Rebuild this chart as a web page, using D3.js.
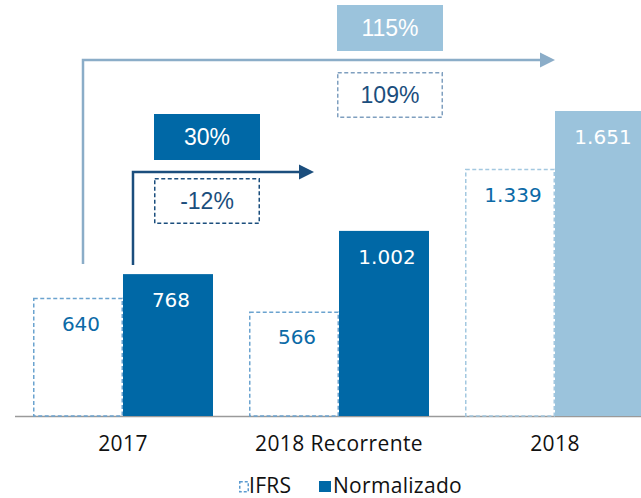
<!DOCTYPE html>
<html>
<head>
<meta charset="utf-8">
<script src="https://cdn.jsdelivr.net/npm/d3@7"></script>
<style>
  html, body { margin: 0; padding: 0; background: #fff; }
  svg { display: block; }
  .cat { font-family: "Open Sans", sans-serif; font-size: 21px; fill: #111; letter-spacing: 0.4px; }
  .val { font-family: "DejaVu Sans", sans-serif; font-size: 20px; }
  .pct { font-family: "Liberation Sans", Arial, sans-serif; font-size: 23px; }
  .leg { font-family: "Open Sans", sans-serif; font-size: 21px; fill: #111; letter-spacing: 0.3px; }
</style>
</head>
<body>
<div id="chart"></div>
<script>
const categories = ["2017", "2018 Recorrente", "2018"]
const series = ["IFRS", "Normalizado"]
const ifrs = [640, 566, 1339]
const normalizado = [768, 1002, 1651]
const valueLabels = [["640", "566", "1.339"], ["768", "1.002", "1.651"]]
// growth annotations: [filled (Normalizado), dashed (IFRS)]
const growthShort = ["30%", "-12%"]
const growthLong = ["115%", "109%"]

const w = 641, h = 498,
    margin = {left: 33, bottom: 82, top: 111}

const darkBlue = "#0068a6",
      lightBlue = "#9bc3dc",
      navy = "#1b4e7d",
      steel = "#8badc8"

const svg = d3.select("#chart").append("svg")
    .attr("width", w)
    .attr("height", h)

const x0 = d3.scaleBand()
    .domain(categories)
    .range([margin.left, margin.left + 612])
    .paddingInner(0.1667)
    .paddingOuter(0)

const x1 = d3.scaleBand()
    .domain(series)
    .range([0, x0.bandwidth()])

const y = d3.scaleLinear()
    .domain([0, 1651])
    .range([h - margin.bottom, margin.top])

const base = y(0)

// axis line
svg.append("line")
  .attr("x1", 15).attr("x2", w)
  .attr("y1", base + 0.5).attr("y2", base + 0.5)
  .attr("stroke", "#9a9a9a")
  .attr("stroke-width", 1.5)

// bars + labels
const bw = x1.bandwidth()
categories.forEach((c, i) => {
  const last = i === categories.length - 1
  svg.append("rect")
    .attr("x", x0(c) + x1("IFRS") + 0.75)
    .attr("y", y(ifrs[i]) + 0.75)
    .attr("width", bw - 1.5)
    .attr("height", base - y(ifrs[i]) - 0.75)
    .attr("fill", "none")
    .attr("stroke", last ? "#a3c8e0" : "#6ba3cf")
    .attr("stroke-width", 1.5)
    .attr("stroke-dasharray", "4,2.5")

  svg.append("rect")
    .attr("x", x0(c) + x1("Normalizado"))
    .attr("y", y(normalizado[i]))
    .attr("width", bw)
    .attr("height", base - y(normalizado[i]))
    .attr("fill", last ? lightBlue : darkBlue)

  svg.append("text")
    .attr("class", "val")
    .attr("x", x0(c) + x1("IFRS") + bw / 2 + 3)
    .attr("y", y(ifrs[i]) + 33)
    .attr("text-anchor", "middle")
    .attr("fill", "#0b6aa7")
    .text(valueLabels[0][i])

  svg.append("text")
    .attr("class", "val")
    .attr("x", x0(c) + x1("Normalizado") + bw / 2 + 3)
    .attr("y", y(normalizado[i]) + 33)
    .attr("text-anchor", "middle")
    .attr("fill", "#fff")
    .text(valueLabels[1][i])

  svg.append("text")
    .attr("class", "cat")
    .attr("x", x0(c) + x0.bandwidth() / 2)
    .attr("y", base + 35)
    .attr("text-anchor", "middle")
    .text(c)
})

// arrows
const arrow = (xs, yTop, yBottom, xEnd, color) => {
  svg.append("path")
    .attr("d", `M${xs},${yBottom} V${yTop} H${xEnd - 14}`)
    .attr("fill", "none")
    .attr("stroke", color)
    .attr("stroke-width", 2.5)
  svg.append("path")
    .attr("d", `M${xEnd - 15},${yTop - 7.5} L${xEnd},${yTop} L${xEnd - 15},${yTop + 7.5} Z`)
    .attr("fill", color)
}

const x2017 = x0("2017"), xRec = x0("2018 Recorrente"), x2018 = x0("2018")
arrow(x2017 + 50, 60, 264, x2018 + x1("Normalizado"), steel)
arrow(x2017 + x1("Normalizado") + 10, 172, 265, xRec + 65, navy)

// growth boxes
const box = (bx, by, label, filled, color, textColor) => {
  const bwid = 106, bh = 46
  svg.append("rect")
    .attr("x", bx + (filled ? 0 : 0.75))
    .attr("y", by + (filled ? 0 : 0.75))
    .attr("width", filled ? bwid : bwid - 1.5)
    .attr("height", filled ? bh : bh - 1.5)
    .attr("fill", filled ? color : "none")
    .attr("stroke", filled ? "none" : color)
    .attr("stroke-width", 1.5)
    .attr("stroke-dasharray", filled ? null : "4,2.5")
  svg.append("text")
    .attr("class", "pct")
    .attr("x", bx + bwid / 2)
    .attr("y", by + bh / 2 + 8)
    .attr("text-anchor", "middle")
    .attr("fill", textColor)
    .text(label)
}

box(337, 5, growthLong[0], true, lightBlue, "#fff")
box(337, 72, growthLong[1], false, "#7f9fbf", navy)
box(154, 114, growthShort[0], true, darkBlue, "#fff")
box(154, 178, growthShort[1], false, navy, navy)

// legend
const leg = svg.append("g").attr("transform", "translate(239, 481)")
leg.append("rect")
  .attr("x", 0.75).attr("y", 0.75)
  .attr("width", 8.5).attr("height", 10)
  .attr("fill", "none")
  .attr("stroke", "#5b9bd0")
  .attr("stroke-width", 1.5)
  .attr("stroke-dasharray", "3,2")
leg.append("text")
  .attr("class", "leg")
  .attr("x", 10).attr("y", 12)
  .text(series[0])
leg.append("rect")
  .attr("x", 80).attr("y", 0)
  .attr("width", 12).attr("height", 11)
  .attr("fill", darkBlue)
leg.append("text")
  .attr("class", "leg")
  .attr("x", 94).attr("y", 12)
  .text(series[1])
</script>
</body>
</html>
